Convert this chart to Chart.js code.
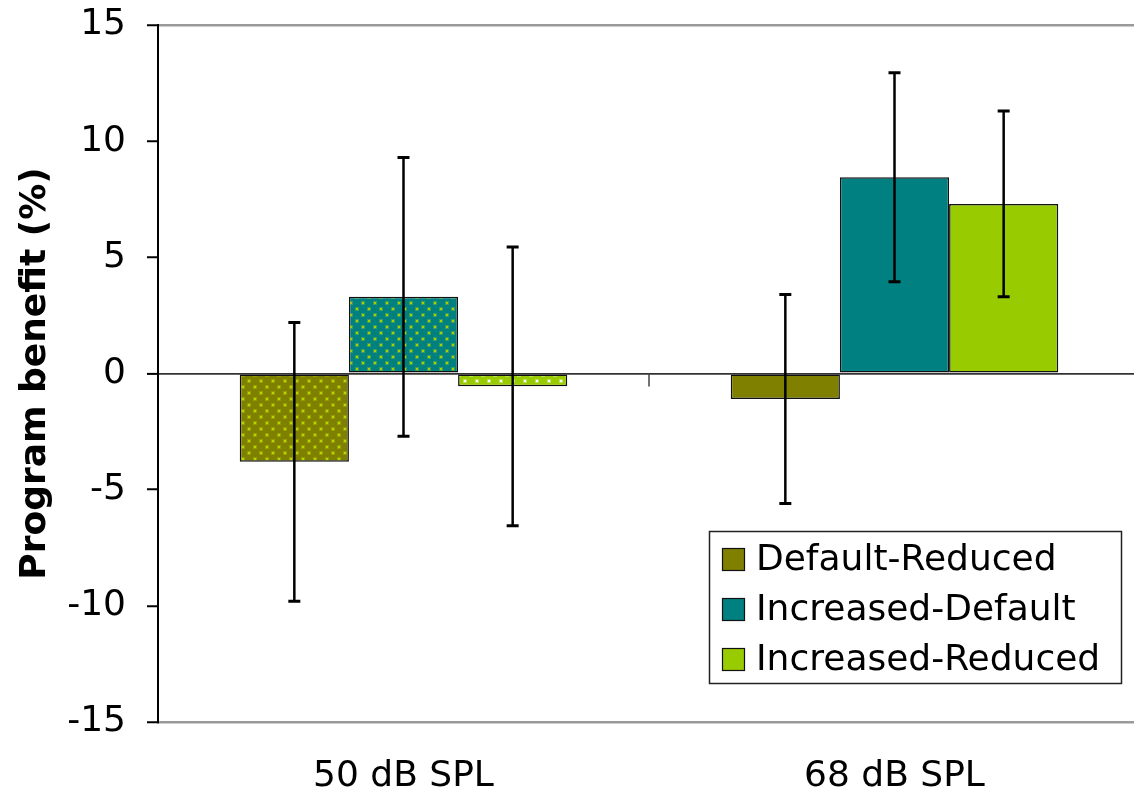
<!DOCTYPE html>
<html>
<head>
<meta charset="utf-8">
<script src="https://cdn.jsdelivr.net/npm/chart.js@4/dist/chart.umd.min.js"></script>
<style>
  html, body { margin: 0; padding: 0; background: #fff; overflow: hidden; }
  #wrap { width: 1134px; height: 796px; overflow: hidden; }
  canvas { display: block; }
</style>
</head>
<body>
<div id="wrap"><canvas id="c" width="1140" height="796"></canvas></div>
<script>
// Categories and series
const categories = ['50 dB SPL', '68 dB SPL'];
const seriesNames = ['Default-Reduced', 'Increased-Default', 'Increased-Reduced'];
const defaultReduced = [-3.8, -1.1];
const increasedDefault = [3.3, 8.45];
const increasedReduced = [-0.55, 7.3];
// Error bar half-widths (±)
const defaultReducedErr = [6.0, 4.5];
const increasedDefaultErr = [6.0, 4.5];
const increasedReducedErr = [6.0, 4.0];
// Y-axis tick labels
const yTicks = [-15, -10, -5, 0, 5, 10, 15];

const FONT = 'DejaVu Sans';
const solidColors = ['#808000', '#008080', '#99cc00'];

// Staggered dot fill used for the 50 dB bars
function dotPattern(base, dot) {
  const t = document.createElement('canvas');
  t.width = 12; t.height = 12;
  const g = t.getContext('2d');
  g.fillStyle = base;
  g.fillRect(0, 0, 12, 12);
  const pts = [[2, 2], [8, 8]];
  for (const [x, y] of pts) {
    g.globalAlpha = 0.35;
    g.fillStyle = dot;
    g.fillRect(x - 1, y - 1, 4, 4);
    g.globalAlpha = 1;
    g.fillRect(x, y, 2, 2);
  }
  return g.createPattern(t, 'repeat');
}

const ctx = document.getElementById('c').getContext('2d');
const patterns = [
  dotPattern('#808000', '#b8d800'),
  dotPattern('#008080', '#a8d000'),
  dotPattern('#99cc00', '#ffffff')
];

const values = [defaultReduced, increasedDefault, increasedReduced];
const errors = [defaultReducedErr, increasedDefaultErr, increasedReducedErr];

const datasets = seriesNames.map((name, i) => ({
  label: name,
  data: values[i],
  backgroundColor: [patterns[i], solidColors[i]],
  borderColor: '#111',
  borderWidth: 1.5,
  borderSkipped: false,
  categoryPercentage: 0.667,
  barPercentage: 1.0
}));

// Error bars with caps, centred on each bar
const errorBars = {
  id: 'errorBars',
  afterDatasetsDraw(chart) {
    const c = chart.ctx;
    const y = chart.scales.y;
    c.save();
    c.strokeStyle = '#000';
    chart.data.datasets.forEach((ds, i) => {
      const meta = chart.getDatasetMeta(i);
      meta.data.forEach((bar, j) => {
        const v = ds.data[j];
        const e = errors[i][j];
        const yHi = y.getPixelForValue(v + e);
        const yLo = y.getPixelForValue(v - e);
        c.lineWidth = 2.5;
        c.beginPath();
        c.moveTo(bar.x, yHi);
        c.lineTo(bar.x, yLo);
        c.stroke();
        c.lineWidth = 3;
        c.beginPath();
        c.moveTo(bar.x - 6, yHi);
        c.lineTo(bar.x + 6, yHi);
        c.moveTo(bar.x - 6, yLo);
        c.lineTo(bar.x + 6, yLo);
        c.stroke();
      });
    });
    c.restore();
  }
};

// Category separator tick hanging from the zero line
const zeroTick = {
  id: 'zeroTick',
  beforeDatasetsDraw(chart) {
    const x = chart.scales.x, y = chart.scales.y;
    const c = chart.ctx;
    const mid = (x.getPixelForValue(0) + x.getPixelForValue(1)) / 2;
    const y0 = y.getPixelForValue(0);
    c.save();
    c.strokeStyle = '#444';
    c.lineWidth = 1.5;
    c.beginPath();
    c.moveTo(mid, y0);
    c.lineTo(mid, y0 + 13);
    c.stroke();
    c.restore();
  }
};

// Boxed legend in the lower right of the plot
const boxLegend = {
  id: 'boxLegend',
  afterDraw(chart) {
    const a = chart.chartArea;
    const c = chart.ctx;
    const w = 412, h = 152;
    const right = a.right - 19, bottom = a.bottom - 39;
    const left = right - w, top = bottom - h;
    c.save();
    c.fillStyle = '#fff';
    c.fillRect(left, top, w, h);
    c.strokeStyle = '#222';
    c.lineWidth = 1.5;
    c.strokeRect(left + 0.5, top + 0.5, w, h);
    c.font = '36px "' + FONT + '"';
    c.textBaseline = 'middle';
    c.textAlign = 'left';
    chart.data.datasets.forEach((ds, i) => {
      const cy = top + 29 + i * 50;
      c.fillStyle = solidColors[i];
      c.fillRect(left + 13, cy - 12, 23, 23);
      c.strokeStyle = '#111';
      c.lineWidth = 1.2;
      c.strokeRect(left + 13.5, cy - 11.5, 22, 22);
      c.fillStyle = '#000';
      c.fillText(ds.label, left + 47, cy + 1);
    });
    c.restore();
  }
};

new Chart(ctx, {
  type: 'bar',
  data: { labels: categories, datasets },
  plugins: [zeroTick, errorBars, boxLegend],
  options: {
    responsive: false,
    animation: false,
    devicePixelRatio: 1,
    layout: { padding: { left: 14, top: 25, right: 0, bottom: 0 } },
    plugins: {
      legend: { display: false },
      tooltip: { enabled: false }
    },
    scales: {
      x: {
        offset: true,
        grid: { display: false, drawTicks: false },
        border: { display: false },
        ticks: {
          color: '#000',
          padding: 33,
          font: { family: FONT, size: 36 }
        },
        afterFit(s) { s.height = 74; }
      },
      y: {
        min: -15,
        max: 15,
        afterBuildTicks(s) { s.ticks = yTicks.map(v => ({ value: v })); },
        afterFit(s) { s.width = 144; s.paddingTop = 0; s.paddingBottom = 0; },
        border: { color: '#000', width: 2 },
        grid: {
          color(c) {
            const v = c.tick && c.tick.value;
            if (v === 0) return '#333';
            if (v === 15 || v === -15) return '#999';
            return 'rgba(0,0,0,0)';
          },
          lineWidth(c) {
            const v = c.tick && c.tick.value;
            return v === 0 ? 1.8 : 2.5;
          },
          tickColor: '#000',
          tickLength: 11,
          tickWidth: 2
        },
        ticks: {
          color: '#000',
          padding: 21,
          font: { family: FONT, size: 36 }
        },
        title: {
          display: true,
          text: 'Program benefit (%)',
          color: '#000',
          padding: { top: 0, bottom: 0 },
          font: { family: FONT, size: 36, weight: 'bold' }
        }
      }
    }
  }
});
</script>
</body>
</html>
